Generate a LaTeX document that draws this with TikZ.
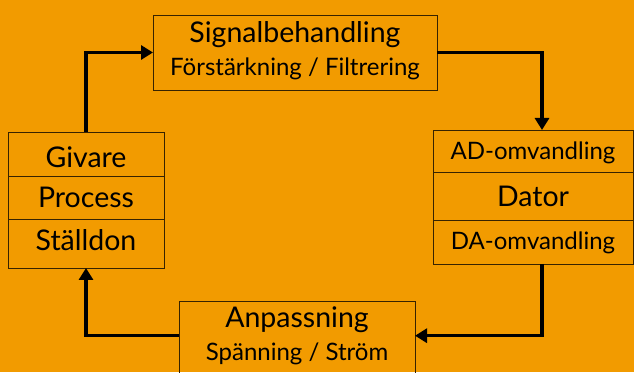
\documentclass[tikz,border=0pt]{standalone}
\usepackage{fontspec}
\setmainfont{Lato}
\usetikzlibrary{arrows.meta,positioning,calc}
\definecolor{bgorange}{RGB}{242,155,0}
\definecolor{edge}{RGB}{55,35,0}
\tikzset{
  box/.style={draw=edge, line width=0.9pt, inner sep=0pt, outer sep=0pt},
  title/.style={font=\fontsize{28.5}{30}\selectfont, anchor=base, inner sep=0pt},
  sub/.style={font=\fontsize{24}{26}\selectfont, anchor=base, inner sep=0pt},
  flow/.style={line width=3.3pt, -{Triangle[length=12pt,width=14pt]}},
}
\begin{document}
\begin{tikzpicture}[x=1pt,y=1pt]
  \useasboundingbox (0,0) rectangle (634,372);
  \clip (0,0) rectangle (634,372);
  \fill[bgorange] (0,0) rectangle (634,372);
  % Boxes
  \node[box, minimum width=284pt, minimum height=75pt] (sig) at (295,319.5) {};
  \node[box, minimum width=156pt, minimum height=44pt] (giv) at (86,218) {};
  \node[box, minimum width=156pt, minimum height=43pt] (proc) at (86,174.5) {};
  \node[box, minimum width=156pt, minimum height=49pt] (stall) at (86,128.5) {};
  \node[box, minimum width=200pt, minimum height=42pt] (ad) at (533,221) {};
  \node[box, minimum width=200pt, minimum height=48pt] (dat) at (533,176) {};
  \node[box, minimum width=200pt, minimum height=44pt] (da) at (533,130) {};
  \node[box, minimum width=236pt, minimum height=81pt] (anp) at (297,30.5) {};
  % Texts
  \node[title] (sigT) at (295,329) {Signalbehandling};
  \node[sub] (sigS) at (295,296) {Förstärkning / Filtrering};
  \node[title] (givT) at (86,204.7) {Givare};
  \node[title] (procT) at (86,164) {Process};
  \node[title] (stallT) at (86,121) {Ställdon};
  \node[sub] (adT) at (533,212.7) {AD-omvandling};
  \node[title] (datT) at (533,165.3) {Dator};
  \node[sub] (daT) at (533,122) {DA-omvandling};
  \node[title] (anpT) at (297,44.7) {Anpassning};
  \node[sub] (anpS) at (297,11.3) {Spänning / Ström};
  % Arrows
  \coordinate (colR) at (542,0);
  \coordinate (rowB) at (0,36.3);
  \draw[flow] (giv.north) |- (sig.west);
  \draw[flow] (sig.east) -| (ad.north -| colR);
  \draw[flow] (da.south -| colR) |- (anp.east |- rowB);
  \draw[flow] (anp.west |- rowB) -| (stall.south);
\end{tikzpicture}
\end{document}
